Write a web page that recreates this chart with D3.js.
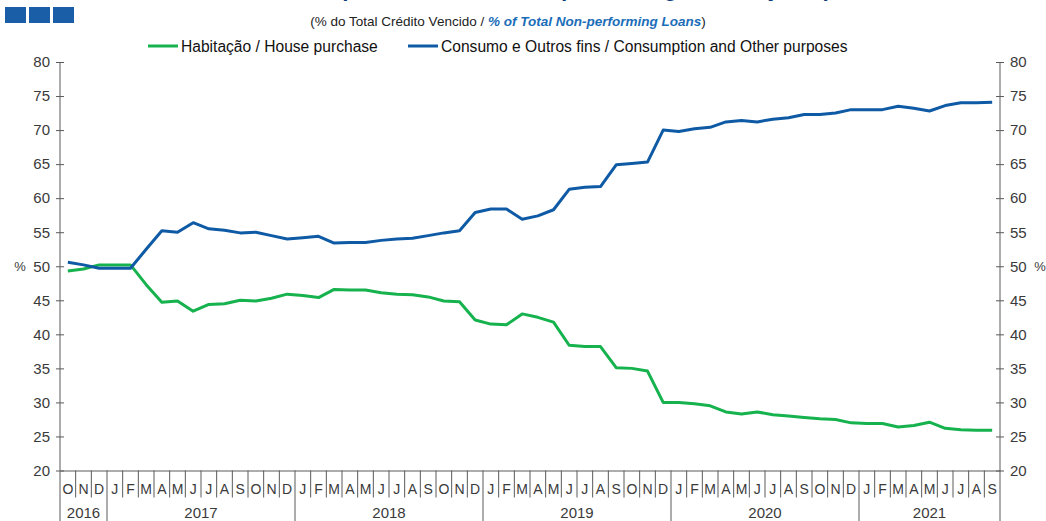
<!DOCTYPE html>
<html>
<head>
<meta charset="utf-8">
<script src="https://cdn.jsdelivr.net/npm/d3@7"></script>
<style>
  body { margin: 0; background: #fff; }
  svg { display: block; font-family: "Liberation Sans", Arial, sans-serif; }
</style>
</head>
<body>
<figure id="line" style="margin:0"></figure>
<script>
// month labels, Oct 2016 .. Sep 2021
const months = ["O","N","D",
  "J","F","M","A","M","J","J","A","S","O","N","D",
  "J","F","M","A","M","J","J","A","S","O","N","D",
  "J","F","M","A","M","J","J","A","S","O","N","D",
  "J","F","M","A","M","J","J","A","S","O","N","D",
  "J","F","M","A","M","J","J","A","S"];
const years = ["2016", "2017", "2018", "2019", "2020", "2021"];
const yearStart = [0, 3, 15, 27, 39, 51];   // first month index of each year
const yTicks = [20, 25, 30, 35, 40, 45, 50, 55, 60, 65, 70, 75, 80];

const housing = [49.3, 49.6, 50.2,
  50.2, 50.2, 47.3, 44.7, 44.9, 43.4, 44.4, 44.5, 45.0, 44.9, 45.3, 45.9,
  45.7, 45.4, 46.6, 46.5, 46.5, 46.1, 45.9, 45.8, 45.5, 44.9, 44.8, 42.1,
  41.5, 41.4, 43.0, 42.5, 41.8, 38.4, 38.2, 38.2, 35.1, 35.0, 34.6, 30.0,
  30.0, 29.8, 29.5, 28.6, 28.3, 28.6, 28.2, 28.0, 27.8, 27.6, 27.5, 27.0,
  26.9, 26.9, 26.4, 26.6, 27.1, 26.2, 26.0, 25.9, 25.9];
const consumption = [50.6, 50.2, 49.7,
  49.7, 49.7, 52.5, 55.2, 55.0, 56.4, 55.5, 55.3, 54.9, 55.0, 54.5, 54.0,
  54.2, 54.4, 53.4, 53.5, 53.5, 53.8, 54.0, 54.1, 54.5, 54.9, 55.2, 57.9,
  58.4, 58.4, 56.9, 57.4, 58.3, 61.3, 61.6, 61.7, 64.9, 65.1, 65.3, 70.0,
  69.8, 70.2, 70.4, 71.2, 71.4, 71.2, 71.6, 71.8, 72.3, 72.3, 72.5, 73.0,
  73.0, 73.0, 73.5, 73.2, 72.8, 73.6, 74.0, 74.0, 74.1];

const W = 1046, H = 521;
const plotL = 60, plotR = 1000, plotT = 62, plotB = 470.5;
const green = "#16b24e", blue = "#0e5aa5", ink = "#3a3a3a", axisCol = "#5a5a5a";

const svg = d3.select("figure#line").append("svg")
  .attr("width", W).attr("height", H);

// title (sits above the visible area, only descenders show)
svg.append("text")
  .attr("x", 523).attr("y", -4)
  .attr("text-anchor", "middle")
  .attr("font-size", 22).attr("font-weight", "bold").attr("font-style", "italic")
  .attr("fill", "#0b3d7a")
  .text("Crédito Vencido por Finalidade / Non-performing Loans by Purpose");

// corner squares
svg.selectAll("rect.sq").data([0, 1, 2]).enter().append("rect")
  .attr("x", d => 5 + d * 24).attr("y", 7)
  .attr("width", 21).attr("height", 16)
  .attr("fill", "#1b5ea8");

// subtitle
const sub = svg.append("text")
  .attr("x", 508).attr("y", 26)
  .attr("text-anchor", "middle")
  .attr("font-size", 13.5).attr("fill", "#222");
sub.append("tspan").text("(% do Total  Crédito Vencido / ");
sub.append("tspan").attr("fill", "#1b6db8").attr("font-weight", "bold").attr("font-style", "italic")
  .text("% of Total Non-performing Loans");
sub.append("tspan").text(")");

// legend
const legend = [
  { name: "Habitação / House purchase", color: green, x: 148 },
  { name: "Consumo e Outros fins / Consumption and Other purposes", color: blue, x: 408 }
];
const lg = svg.selectAll("g.lg").data(legend).enter().append("g")
  .attr("transform", d => "translate(" + d.x + ",46)");
lg.append("line").attr("x1", 0).attr("x2", 30)
  .attr("stroke", d => d.color).attr("stroke-width", 3);
lg.append("text").attr("x", 33).attr("y", 6)
  .attr("font-size", 15.6).attr("fill", "#111")
  .text(d => d.name);

// scales
const x = d3.scaleBand().domain(d3.range(months.length)).range([plotL, plotR]);
const bw = x.bandwidth();
const y = d3.scaleLinear().domain([20, 80]).range([plotB, plotT]);

// y axes
const axL = svg.append("g").attr("transform", "translate(" + plotL + ",0)")
  .call(d3.axisLeft(y).tickValues(yTicks).tickSize(4));
const axR = svg.append("g").attr("transform", "translate(" + plotR + ",0)")
  .call(d3.axisRight(y).tickValues(yTicks).tickSize(4));
[axL, axR].forEach(ax => {
  ax.select(".domain").remove();
  ax.selectAll(".tick line").attr("x1", -4).attr("x2", 4).attr("stroke", axisCol);
  ax.selectAll(".tick text").attr("font-size", 15).attr("fill", ink)
    .attr("font-family", "Liberation Sans, Arial, sans-serif");
});
axL.selectAll(".tick text").attr("x", -10);
axR.selectAll(".tick text").attr("x", 10);
svg.append("line").attr("x1", plotL).attr("x2", plotL).attr("y1", plotT).attr("y2", H)
  .attr("stroke", axisCol);
svg.append("line").attr("x1", plotR).attr("x2", plotR).attr("y1", plotT).attr("y2", H)
  .attr("stroke", axisCol);

// % labels
svg.append("text").attr("x", 20).attr("y", y(50) + 5).attr("text-anchor", "middle")
  .attr("font-size", 13).attr("fill", ink).text("%");
svg.append("text").attr("x", 1040).attr("y", y(50) + 5).attr("text-anchor", "middle")
  .attr("font-size", 13).attr("fill", ink).text("%");

// x axis: month labels
const axB = svg.append("g").attr("transform", "translate(0," + plotB + ")")
  .call(d3.axisBottom(x).tickSize(0).tickFormat(i => months[i]));
axB.select(".domain").attr("stroke", axisCol);
axB.selectAll(".tick text").attr("font-size", 14).attr("fill", ink)
  .attr("font-family", "Liberation Sans, Arial, sans-serif").attr("dy", 0).attr("y", 23);

// month dividers
svg.selectAll("line.mdiv").data(d3.range(1, months.length)).enter().append("line")
  .attr("x1", i => x(i)).attr("x2", i => x(i))
  .attr("y1", plotB).attr("y2", i => yearStart.includes(i) ? H : plotB + 27)
  .attr("stroke", axisCol).attr("stroke-width", 1);

// year labels
svg.selectAll("text.yr").data(years).enter().append("text")
  .attr("x", (d, k) => {
    const a = x(yearStart[k]);
    const b = k + 1 < yearStart.length ? x(yearStart[k + 1]) : plotR;
    return (a + b) / 2;
  })
  .attr("y", 518).attr("text-anchor", "middle")
  .attr("font-size", 15).attr("fill", ink).text(d => d);

// lines
const line = d3.line().x((d, i) => x(i) + bw / 2).y(d => y(d));
[[housing, green], [consumption, blue]].forEach(([vals, col]) => {
  svg.append("path").datum(vals)
    .attr("d", line)
    .attr("fill", "none").attr("stroke", col).attr("stroke-width", 3)
    .attr("stroke-linejoin", "round");
});
</script>
</body>
</html>
